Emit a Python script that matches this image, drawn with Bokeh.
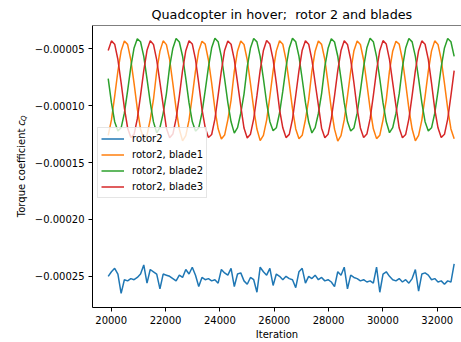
from math import pi

from bokeh.plotting import figure
from bokeh.layouts import row
from bokeh.models import (Range1d, FixedTicker, CustomJSTickFormatter, Legend,
                          LegendItem, Span, ColumnDataSource)
from bokeh.core.properties import value
from bokeh.embed import file_html
from bokeh.resources import INLINE

FONT = "DejaVu Sans"

# Iteration sampling of the monitored coefficients
iter_start = 19890
iter_step = 119
n_samples = 108
iterations = list(range(iter_start, iter_start + n_samples * iter_step, iter_step))

# Torque coefficient values, in units of 1e-6
rotor2 = [
    -250, -246, -243, -248, -265, -253, -254, -252, -253, -251,
    -248, -240, -256, -244, -246, -248, -261, -248, -249, -250,
    -252, -254, -249, -251, -244, -248, -242, -249, -259, -251,
    -253, -252, -254, -253, -256, -244, -247, -249, -243, -259,
    -248, -247, -254, -257, -251, -253, -264, -242, -246, -249,
    -243, -258, -248, -250, -253, -250, -252, -253, -260, -246,
    -243, -256, -250, -252, -249, -253, -251, -254, -253, -255,
    -259, -246, -249, -242, -261, -249, -251, -252, -254, -253,
    -255, -254, -256, -242, -264, -248, -246, -250, -253, -254,
    -252, -255, -253, -256, -252, -244, -263, -248, -247, -249,
    -253, -252, -255, -254, -257, -254, -255, -239,
]

blade1 = [
    -126.2, -112.6, -91.9, -69.6, -51.9, -43.3, -46.2, -59.8, -80.5, -102.8, -120.5, -129.1,
    -126.0, -112.3, -94.6, -69.8, -52.1, -43.1, -46.4, -59.6, -80.7, -102.6, -120.8, -131.0,
    -126.3, -112.8, -91.6, -69.4, -51.8, -43.4, -46.0, -59.9, -80.3, -103.0, -120.4, -129.3,
    -125.9, -112.5, -95.1, -69.7, -52.0, -43.2, -46.3, -59.7, -80.6, -102.7, -120.6, -130.8,
    -126.2, -112.7, -92.0, -69.5, -51.9, -43.0, -46.1, -59.8, -80.4, -102.9, -120.5, -129.2,
    -126.1, -112.4, -94.8, -69.6, -52.2, -43.3, -46.2, -59.5, -80.5, -102.8, -120.7, -131.2,
    -126.4, -112.6, -91.8, -69.8, -51.7, -43.2, -46.3, -59.9, -80.6, -102.6, -120.4, -129.0,
    -126.0, -112.5, -94.9, -69.5, -52.0, -43.4, -46.0, -59.7, -80.4, -102.9, -120.6, -130.9,
    -126.2, -112.7, -92.1, -69.7, -51.9, -43.1, -46.2, -59.8, -80.5, -102.7, -120.5, -129.1,
]

blade2 = [
    -76.3, -97.4, -114.1, -122.2, -119.5, -106.6, -87.1, -66.0, -49.3, -41.2, -43.9, -56.8,
    -76.5, -97.2, -114.3, -123.9, -119.3, -106.8, -89.6, -65.8, -49.5, -41.0, -44.1, -56.6,
    -76.2, -97.6, -114.0, -122.4, -119.6, -106.4, -86.9, -66.2, -49.2, -40.8, -43.8, -56.9,
    -76.4, -97.3, -114.2, -124.2, -119.4, -106.7, -89.9, -65.9, -49.4, -41.1, -44.0, -56.7,
    -76.3, -97.5, -114.1, -122.1, -119.5, -106.5, -87.3, -66.1, -49.3, -40.9, -43.9, -56.8,
    -76.6, -97.2, -114.4, -124.0, -119.3, -106.9, -89.4, -65.8, -49.6, -41.2, -44.1, -56.6,
    -76.2, -97.4, -114.0, -122.3, -119.6, -106.6, -87.0, -66.0, -49.2, -40.8, -43.8, -56.9,
    -76.4, -97.6, -114.2, -123.8, -119.4, -106.7, -89.7, -66.2, -49.4, -41.0, -44.0, -56.7,
    -76.3, -97.3, -114.1, -122.2, -119.5, -106.6, -87.2, -65.9, -49.3, -41.1, -43.9, -56.8,
]

blade3 = [
    -51.6, -43.1, -46.0, -59.5, -80.0, -102.0, -119.6, -128.1, -125.2, -111.7, -91.2, -69.2,
    -51.4, -42.9, -46.2, -59.8, -79.6, -99.8, -119.9, -128.3, -125.0, -111.5, -91.6, -69.0,
    -51.7, -43.0, -45.8, -59.3, -80.4, -103.1, -119.4, -128.0, -125.4, -111.9, -91.0, -69.4,
    -51.5, -43.2, -46.1, -59.6, -79.8, -100.5, -119.7, -128.4, -125.1, -111.6, -91.3, -69.1,
    -51.6, -42.8, -45.9, -59.4, -80.2, -103.6, -119.5, -128.1, -125.3, -111.8, -91.1, -69.3,
    -51.3, -43.1, -46.0, -59.7, -79.9, -99.6, -119.8, -128.2, -125.2, -111.4, -91.4, -69.2,
    -51.6, -43.0, -46.2, -59.5, -80.1, -102.9, -119.6, -128.0, -125.0, -111.7, -91.2, -69.0,
    -51.5, -42.9, -45.9, -59.6, -80.0, -100.2, -119.7, -128.3, -125.3, -111.6, -91.3, -69.3,
    -51.7, -43.1, -46.1, -59.4, -80.3, -103.2, -119.5, -128.1, -125.2, -111.8, -91.2, -69.2,
]

series_names = ["rotor2", "rotor2, blade1", "rotor2, blade2", "rotor2, blade3"]
series_values = [rotor2, blade1, blade2, blade3]
series_colors = ["#1f77b4", "#ff7f0e", "#2ca02c", "#d62728"]

x_ticks = [20000, 22000, 24000, 26000, 28000, 30000, 32000]
y_ticks = [-0.00025, -0.00020, -0.00015, -0.00010, -0.00005]

x_lo, x_hi = 19312, 32893
y_lo, y_hi = -0.0002774, -0.0000296

STRIP_W = 30
HEIGHT = 342

# ---- main plot -------------------------------------------------------------
p = figure(width=461 - STRIP_W, height=HEIGHT, output_backend="svg",
           toolbar_location=None,
           x_range=Range1d(x_lo, x_hi), y_range=Range1d(y_lo, y_hi),
           min_border_left=92 - STRIP_W, min_border_right=0, min_border_top=24,
           min_border_bottom=35)

p.title.text = "Quadcopter in hover;\u00a0 rotor 2 and blades"
p.title.text_font = FONT
p.title.text_font_size = "12.75px"
p.title.text_font_style = "normal"
p.title.text_color = "black"
p.title.align = "left"
p.title.offset = 59
p.title.standoff = 8

p.grid.visible = False
p.outline_line_color = None
p.background_fill_color = "white"
p.border_fill_color = "white"

for ax in (p.xaxis[0], p.yaxis[0]):
    ax.axis_line_color = "black"
    ax.axis_line_width = 1
    ax.major_tick_line_color = "black"
    ax.major_tick_out = 4
    ax.major_tick_in = 0
    ax.minor_tick_line_color = None
    ax.major_label_text_font = FONT
    ax.major_label_text_font_size = "10px"
    ax.major_label_text_color = "black"
    ax.major_label_standoff = 4

p.xaxis.ticker = FixedTicker(ticks=x_ticks)
p.yaxis.ticker = FixedTicker(ticks=y_ticks)
p.yaxis.formatter = CustomJSTickFormatter(
    code="return (tick < 0 ? '\\u2212' : '') + Math.abs(tick).toFixed(5);")

p.xaxis.axis_label = "Iteration"
p.xaxis.axis_label_text_font = FONT
p.xaxis.axis_label_text_font_size = "10px"
p.xaxis.axis_label_text_font_style = "normal"
p.xaxis.axis_label_text_color = "black"
p.xaxis.axis_label_standoff = 2

# top spine
p.add_layout(Span(location=y_hi, dimension="width", line_color="black", line_width=1))

items = []
for name, vals, color in zip(series_names, series_values, series_colors):
    src = ColumnDataSource(data=dict(x=iterations, y=[v * 1e-6 for v in vals]))
    r = p.line("x", "y", source=src, line_color=color, line_width=1.5)
    items.append(LegendItem(label=name, renderers=[r]))

legend = Legend(items=items, location=(5, 109))
legend.label_text_font = FONT
legend.label_text_font_size = "10px"
legend.label_text_color = "black"
legend.glyph_width = 23
legend.glyph_height = 15
legend.label_height = 15
legend.label_standoff = 8
legend.spacing = 1
legend.padding = 3
legend.border_line_color = "#cccccc"
legend.border_line_width = 1
legend.background_fill_color = "white"
legend.background_fill_alpha = 0.8
p.add_layout(legend, "center")

# ---- strip holding the y-axis title: "Torque coefficient c_Q" --------------
s = figure(width=STRIP_W, height=HEIGHT, output_backend="svg", toolbar_location=None,
           x_range=Range1d(0, STRIP_W), y_range=Range1d(0, HEIGHT),
           x_axis_type=None, y_axis_type=None, min_border=0)
s.grid.visible = False
s.outline_line_color = None
s.background_fill_color = "white"
s.border_fill_color = "white"

# words end just below the symbol, which reads upwards after a small gap
s.text(x=[20.5], y=[217], text=["Torque coefficient"], angle=pi / 2,
       text_font=value(FONT), text_font_size="10px", text_color="black",
       text_align="right", text_baseline="middle")
s.text(x=[20.5], y=[220.5], text=["c"], angle=pi / 2,
       text_font=value(FONT), text_font_size="10px", text_font_style="italic",
       text_color="black", text_align="left", text_baseline="middle")
s.text(x=[23.0], y=[226.3], text=["Q"], angle=pi / 2,
       text_font=value(FONT), text_font_size="7px", text_font_style="italic",
       text_color="black", text_align="left", text_baseline="middle")

layout = row(s, p, spacing=0)

open("out.html", "w").write(file_html(layout, INLINE))
